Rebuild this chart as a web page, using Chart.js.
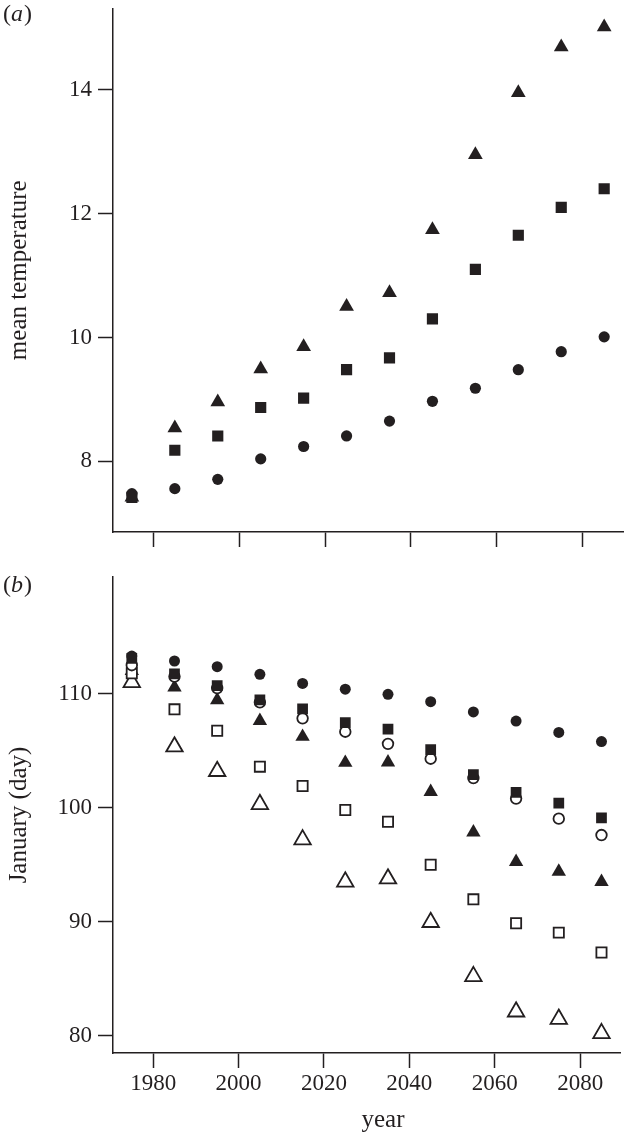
<!DOCTYPE html>
<html>
<head>
<meta charset="utf-8">
<script src="https://cdn.jsdelivr.net/npm/chart.js@4.4.1/dist/chart.umd.min.js"></script>
<style>
    body { margin: 0; background: #fff; }
    canvas { position: absolute; left: 0; }
    #chartA { top: 0; }
    #chartB { top: 565px; }
</style>
</head>
<body>
<canvas id="chartA" width="632" height="565"></canvas>
<canvas id="chartB" width="632" height="569"></canvas>
<script>
// Years of the decadal means
const years = [1975, 1985, 1995, 2005, 2015, 2025, 2035, 2045, 2055, 2065, 2075, 2085];
const yearTicks = [1980, 2000, 2020, 2040, 2060, 2080];

// (a) mean temperature
const tempTriangle = [7.42, 8.54, 8.96, 9.49, 9.85, 10.50, 10.72, 11.74, 12.95, 13.95, 14.69, 15.01];
const tempSquare = [7.42, 8.18, 8.41, 8.87, 9.02, 9.48, 9.67, 10.30, 11.10, 11.65, 12.10, 12.40];
const tempCircle = [7.48, 7.56, 7.71, 8.04, 8.24, 8.41, 8.65, 8.97, 9.18, 9.48, 9.77, 10.01];
const tempTicks = [8, 10, 12, 14];

// (b) January (day)
const dayFilledCircle = [113.3, 112.87, 112.37, 111.7, 110.9, 110.4, 109.95, 109.3, 108.4, 107.6, 106.6, 105.8];
const dayFilledSquare = [113.1, 111.75, 110.7, 109.45, 108.66, 107.46, 106.9, 105.1, 102.9, 101.35, 100.4, 99.1];
const dayFilledTriangle = [112.0, 110.56, 109.45, 107.63, 106.23, 103.95, 103.98, 101.4, 97.84, 95.26, 94.4, 93.5];
const dayOpenCircle = [112.5, 111.5, 110.5, 109.25, 107.84, 106.67, 105.6, 104.3, 102.6, 100.8, 99.04, 97.6];
const dayOpenSquare = [111.8, 108.63, 106.75, 103.6, 101.9, 99.8, 98.77, 95.0, 91.96, 89.86, 89.04, 87.3];
const dayOpenTriangle = [111.0, 105.35, 103.2, 100.3, 97.2, 93.5, 93.77, 89.95, 85.2, 82.1, 81.46, 80.2];
const dayTicks = [80, 90, 100, 110];

const ink = '#231f20';
const serif = '"Liberation Serif", "Times New Roman", serif';

function points(values) {
    return values.map((v, i) => ({ x: years[i], y: v }));
}

// one marker series; lower order is drawn on top
function series(label, values, style, radius, open, order) {
    return {
        label: label,
        data: points(values),
        pointStyle: style,
        pointRadius: radius,
        pointHoverRadius: radius,
        backgroundColor: open ? '#fff' : ink,
        borderColor: ink,
        borderWidth: open ? 1.8 : 0,
        order: order
    };
}

function axes(yMin, yMax, yTicks, yTitle, xHeight, showYears) {
    return {
        x: {
            type: 'linear',
            min: 1970.6,
            max: 2089.5,
            afterBuildTicks: axis => { axis.ticks = yearTicks.map(v => ({ value: v })); },
            afterFit: axis => { axis.height = xHeight; axis.paddingLeft = 0; axis.paddingRight = 0; },
            border: { display: true, color: ink, width: 1.5 },
            grid: { drawOnChartArea: false, drawTicks: true, tickLength: 15, tickWidth: 1.5, tickColor: ink },
            ticks: {
                display: showYears,
                autoSkip: false,
                maxRotation: 0,
                padding: 2,
                color: ink,
                font: { family: serif, size: 23 },
                callback: v => String(v)
            }
        },
        y: {
            min: yMin,
            max: yMax,
            afterBuildTicks: axis => { axis.ticks = yTicks.map(v => ({ value: v })); },
            afterFit: axis => { axis.width = 113; axis.paddingTop = 0; axis.paddingBottom = 0; },
            border: { display: true, color: ink, width: 1.5 },
            grid: { drawOnChartArea: false, drawTicks: true, tickLength: 15, tickWidth: 1.5, tickColor: ink },
            ticks: {
                padding: 6,
                color: ink,
                font: { family: serif, size: 23 },
                callback: v => String(v)
            },
            title: {
                display: true,
                text: yTitle,
                color: ink,
                font: { family: serif, size: 25 },
                padding: { top: 4, bottom: 0 }
            }
        }
    };
}

// panel letter and the bottom axis title
const panelText = {
    id: 'panelText',
    afterDraw(chart, args, opts) {
        const ctx = chart.ctx;
        ctx.save();
        ctx.fillStyle = ink;
        ctx.textBaseline = 'alphabetic';
        ctx.textAlign = 'left';
        let x = opts.tagX;
        ctx.font = '24px ' + serif;
        ctx.fillText('(', x, opts.tagY);
        x += ctx.measureText('(').width;
        ctx.font = 'italic 24px ' + serif;
        ctx.fillText(opts.letter, x, opts.tagY);
        x += ctx.measureText(opts.letter).width + 1;
        ctx.font = '24px ' + serif;
        ctx.fillText(')', x, opts.tagY);
        if (opts.xTitle) {
            ctx.font = '25px ' + serif;
            ctx.textAlign = 'center';
            ctx.fillText(opts.xTitle, opts.xTitleX, opts.xTitleY);
        }
        ctx.restore();
    }
};

const common = {
    responsive: false,
    animation: false,
    events: [],
    plugins: { legend: { display: false }, tooltip: { enabled: false } }
};

new Chart(document.getElementById('chartA'), {
    type: 'scatter',
    data: {
        datasets: [
            series('triangle', tempTriangle, 'triangle', 8.5, false, 0),
            series('square', tempSquare, 'rect', 7.9, false, 1),
            series('circle', tempCircle, 'circle', 5.6, false, 2)
        ]
    },
    options: Object.assign({}, common, {
        layout: { padding: { top: 3, left: 0, right: 0, bottom: 0 } },
        scales: axes(6.86, 15.31, tempTicks, 'mean temperature', 33, false),
        plugins: Object.assign({}, common.plugins, {
            panelText: { letter: 'a', tagX: 3, tagY: 21 }
        })
    }),
    plugins: [panelText]
});

new Chart(document.getElementById('chartB'), {
    type: 'scatter',
    data: {
        datasets: [
            series('filled square', dayFilledSquare, 'rect', 7.6, false, 0),
            series('open circle', dayOpenCircle, 'circle', 5.3, true, 1),
            series('open square', dayOpenSquare, 'rect', 7.2, true, 2),
            series('open triangle', dayOpenTriangle, 'triangle', 9.5, true, 3),
            series('filled triangle', dayFilledTriangle, 'triangle', 8.3, false, 4),
            series('filled circle', dayFilledCircle, 'circle', 5.5, false, 5)
        ]
    },
    options: Object.assign({}, common, {
        layout: { padding: { top: 12, left: 0, right: 0, bottom: 0 } },
        scales: axes(78.48, 120.24, dayTicks, 'January (day)', 81, true),
        plugins: Object.assign({}, common.plugins, {
            panelText: { letter: 'b', tagX: 3, tagY: 27, xTitle: 'year', xTitleX: 383, xTitleY: 562 }
        })
    }),
    plugins: [panelText]
});
</script>
</body>
</html>
